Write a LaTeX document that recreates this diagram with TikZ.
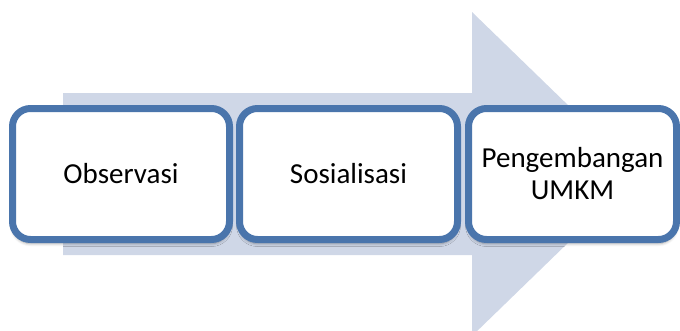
\documentclass[tikz,border=0pt]{standalone}
\usepackage{fontspec}
\setmainfont{Carlito}
\usetikzlibrary{shadows.blur}
\definecolor{boxblue}{HTML}{4A75AC}
\definecolor{arrowfill}{HTML}{CFD7E7}
\begin{document}
\begin{tikzpicture}[x=1pt,y=-1pt,
  stagebox/.style={draw=boxblue, line width=7pt, fill=white, rounded corners=18pt,
    minimum height=131pt, inner sep=0pt, outer sep=0pt, align=center,
    font=\fontsize{29}{32}\selectfont,
    blur shadow={shadow xshift=0pt, shadow yshift=-4pt, shadow opacity=35, shadow blur steps=6, shadow blur radius=3pt}}]
\useasboundingbox (0,0) rectangle (680,330);
\fill[arrowfill] (63,93) -- (472,93) -- (472,12) -- (639,174) -- (472,336) -- (472,255) -- (63,255) -- cycle;
\node[stagebox, minimum width=217pt] (obs) at (121,174) {Observasi};
\node[stagebox, minimum width=218pt] (sos) at (348.5,174) {Sosialisasi};
\node[stagebox, minimum width=208pt] (umkm) at (572.5,174) {Pengembangan\\UMKM};
\end{tikzpicture}
\end{document}
